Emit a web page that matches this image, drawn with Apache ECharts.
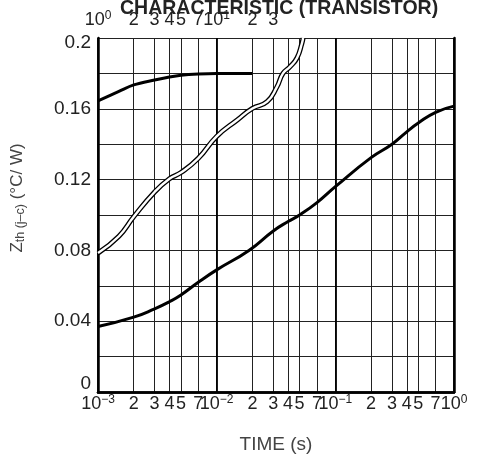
<!DOCTYPE html>
<html>
<head>
<meta charset="utf-8">
<script src="https://cdn.jsdelivr.net/npm/echarts@6/dist/echarts.min.js"></script>
<style>html,body{margin:0;padding:0;background:#fff;}#c{width:480px;height:459px;}</style>
</head>
<body>
<div id="c"></div>
<script>
// ---- data ----
const gridTimes = [0.001,0.002,0.003,0.004,0.005,0.007,0.01,0.02,0.03,0.04,0.05,0.07,0.1,0.2,0.3,0.4,0.5,0.7,1];
const topTicks = [1,2,3,4,5,7,10,20,30];
const yTicks = [0,0.02,0.04,0.06,0.08,0.1,0.12,0.14,0.16,0.18,0.2];

const flatT = [0.001,0.0015,0.002,0.003,0.004,0.005,0.007,0.01,0.02];
const flatV = [0.1645,0.1698,0.1735,0.1763,0.178,0.179,0.1797,0.18,0.18];

const dblT = [0.001,0.0015,0.002,0.003,0.004,0.005,0.007,0.01,0.015,0.02,0.0266,0.0322,0.0362,0.0414,0.0475,0.0523,0.0535];
const dblV = [0.0785,0.088,0.099,0.113,0.1205,0.124,0.132,0.1444,0.1538,0.1602,0.164,0.1724,0.18,0.1837,0.1887,0.197,0.2];

const lowT = [0.001,0.002,0.003,0.004,0.005,0.007,0.01,0.0187,0.03,0.04,0.05,0.07,0.1,0.2,0.3,0.4,0.5,0.7,1];
const lowV = [0.037,0.0423,0.047,0.051,0.0548,0.062,0.069,0.08,0.091,0.0963,0.1,0.107,0.116,0.1324,0.14,0.147,0.152,0.158,0.1615];

const zip = (a,b) => a.map((x,i)=>[x,b[i]]);
const FONT = 'Liberation Sans';

function logLabel(v){
  const e = Math.log10(v);
  const r = Math.round(e);
  if (Math.abs(e - r) < 1e-6) {
    return '{a|10}{s|' + (r < 0 ? '\u2212' + (-r) : r) + '}';
  }
  return String(Math.round(v / Math.pow(10, Math.floor(e + 1e-9))));
}
const richLbl = {
  a: {fontSize: 18, lineHeight: 20, color: '#222', fontFamily: FONT},
  s: {fontSize: 12, lineHeight: 12, verticalAlign: 'top', color: '#222', fontFamily: FONT}
};

const chart = echarts.init(document.getElementById('c'), null, {renderer: 'canvas'});
chart.setOption({
  animation: false,
  backgroundColor: '#fff',
  title: {
    text: 'CHARACTERISTIC (TRANSISTOR)',
    left: 115, top: -6,
    textStyle: {fontFamily: FONT, fontSize: 19.5, fontWeight: 'bold', color: '#222'}
  },
  grid: {left: 98, right: 26, top: 38, bottom: 66},
  xAxis: [
    {
      type: 'log', logBase: 10, min: 0.001, max: 1,
      name: 'TIME (s)', nameLocation: 'middle', nameGap: 43,
      nameTextStyle: {fontFamily: FONT, fontSize: 19, color: '#444'},
      axisLine: {show: true, lineStyle: {color: '#000', width: 2.5}},
      axisTick: {show: false, customValues: gridTimes},
      axisLabel: {customValues: gridTimes, margin: 2, formatter: logLabel, rich: richLbl,
        fontFamily: FONT, fontSize: 18, lineHeight: 20, color: '#222'},
      splitLine: {show: true, lineStyle: {color: '#222', width: 1}},
      minorTick: {show: false}, minorSplitLine: {show: false}
    },
    {
      type: 'log', logBase: 10, min: 1, max: 1000, position: 'top',
      axisLine: {show: true, lineStyle: {color: '#000', width: 2.5}},
      axisTick: {show: false, customValues: topTicks},
      axisLabel: {customValues: topTicks, margin: 8, formatter: logLabel, rich: richLbl,
        fontFamily: FONT, fontSize: 18, lineHeight: 20, color: '#222'},
      splitLine: {show: false}
    },
    {
      type: 'log', logBase: 10, min: 0.001, max: 1, gridIndex: 0,
      axisLine: {show: false}, axisTick: {show: false}, axisLabel: {show: false},
      splitLine: {show: true, lineStyle: {color: '#000', width: 1.8}}
    }
  ],
  yAxis: [
    {
      type: 'value', min: 0, max: 0.2, interval: 0.02,
      name: '{z|Z}{t|th (j\u2013c)}{z| (\u00b0C/ W)}',
      nameLocation: 'middle', nameGap: 71, nameRotate: 90,
      nameTextStyle: {
        padding: [0, 0, 0, 34],
        rich: {
          z: {fontFamily: FONT, fontSize: 17, lineHeight: 20, color: '#444'},
          t: {fontFamily: FONT, fontSize: 12.5, lineHeight: 16, verticalAlign: 'bottom', color: '#444'}
        }
      },
      axisLine: {show: true, lineStyle: {color: '#000', width: 2.5}},
      axisTick: {show: false},
      axisLabel: {
        margin: 7, fontFamily: FONT, fontSize: 19, color: '#222',
        formatter: v => {
          const k = Math.round(v * 100);
          if (k % 4 !== 0) return '';
          if (k === 0) return '{lo|0}';
          if (k === 20) return '{hi|0.2}';
          return String(+(k / 100).toFixed(2));
        },
        rich: {
          lo: {fontFamily: FONT, fontSize: 19, color: '#222', padding: [0, 0, 16, 0]},
          hi: {fontFamily: FONT, fontSize: 19, color: '#222', padding: [10, 0, 0, 0]}
        }
      },
      splitLine: {show: true, lineStyle: {color: '#222', width: 1}}
    },
    {
      type: 'value', min: 0, max: 0.2, position: 'right',
      axisLine: {show: true, lineStyle: {color: '#000', width: 2.5}},
      axisTick: {show: false}, axisLabel: {show: false}, splitLine: {show: false}
    }
  ],
  series: [
    {
      type: 'line', xAxisIndex: 0, yAxisIndex: 0, data: zip(flatT, flatV),
      smooth: 0.35, symbol: 'none',
      lineStyle: {color: '#000', width: 3}
    },
    {
      type: 'line', xAxisIndex: 0, yAxisIndex: 0, data: zip(lowT, lowV),
      smooth: 0.5, symbol: 'none',
      lineStyle: {color: '#000', width: 3}
    },
    {
      type: 'line', xAxisIndex: 0, yAxisIndex: 0, data: zip(dblT, dblV),
      smooth: 0.5, symbol: 'none',
      lineStyle: {color: '#000', width: 5}
    },
    {
      type: 'line', xAxisIndex: 0, yAxisIndex: 0, data: zip(dblT, dblV),
      smooth: 0.5, symbol: 'none',
      lineStyle: {color: '#fff', width: 2.4}
    }
  ]
});
</script>
</body>
</html>
